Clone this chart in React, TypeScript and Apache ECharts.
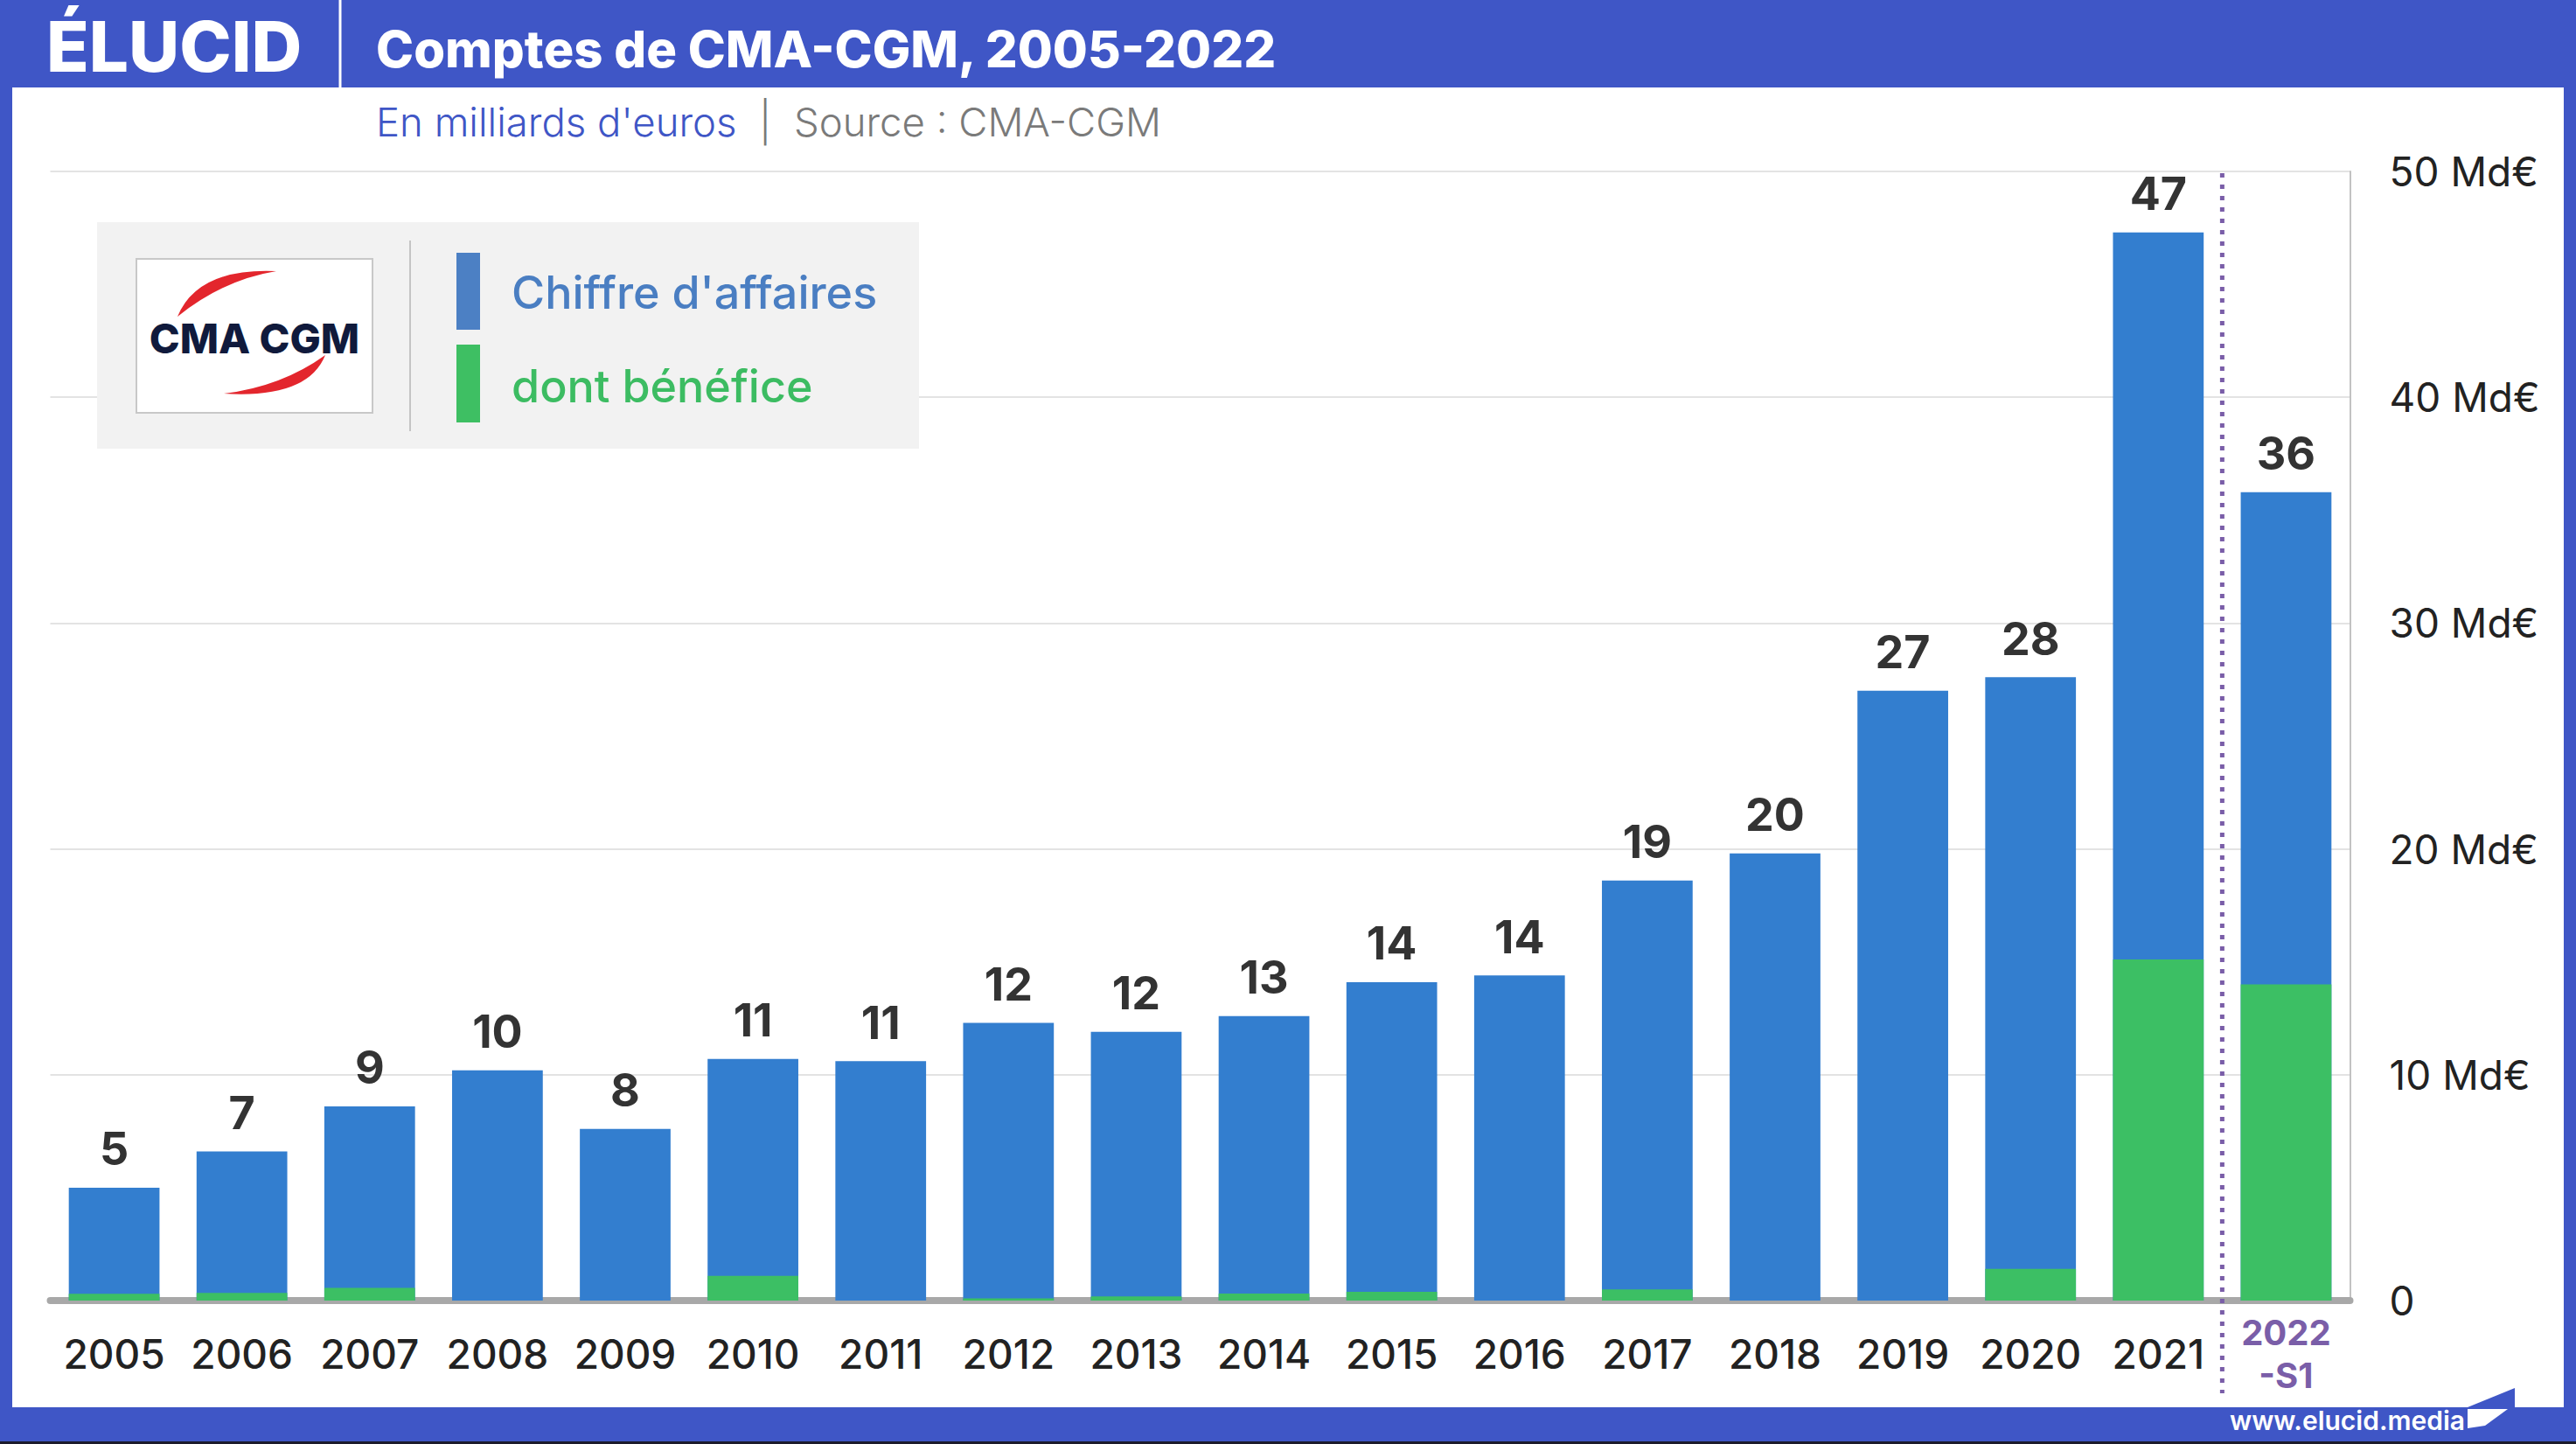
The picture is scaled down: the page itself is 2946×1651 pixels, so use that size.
import React, { useEffect, useRef } from 'react';
import * as echarts from 'echarts';

const categories = ['2005', '2006', '2007', '2008', '2009', '2010', '2011', '2012', '2013', '2014', '2015', '2016', '2017', '2018', '2019', '2020', '2021', '2022-S1'];
const revenue = [5.0, 6.6, 8.6, 10.2, 7.6, 10.7, 10.6, 12.3, 11.9, 12.6, 14.1, 14.4, 18.6, 19.8, 27.0, 27.6, 47.3, 35.8];
const profit = [0.3, 0.34, 0.56, 0, 0, 1.09, 0, 0.1, 0.18, 0.31, 0.39, 0, 0.49, 0, 0, 1.4, 15.1, 14.0];
const yMin = 0;
const yMax = 50;
const yStep = 10;

const FONT = 'Inter, "Noto Sans", sans-serif';
const FRAME = '#3f56c6';
const BAR_BLUE = '#337ecf';
const BAR_GREEN = '#3cbf64';
const PURPLE = '#7a5ea8';

echarts.graphic.registerShape(
  'cmaArcTop',
  echarts.graphic.extendPath('M203,362 Q226,306 316,310 Q255,320 203,362 Z', {})
);
echarts.graphic.registerShape(
  'cmaArcBottom',
  echarts.graphic.extendPath('M372,406 Q352,456 256,450 Q322,442 372,406 Z', {})
);

export default function App() {
  const ref = useRef<HTMLDivElement>(null);

  useEffect(() => {
    document.body.style.margin = '0';
    if (!ref.current) return;
    const chart = echarts.init(ref.current, null, { renderer: 'svg' });
    const last = categories.length - 1;

    const option: any = {
      animation: false,
      backgroundColor: '#ffffff',
      grid: {
        left: 57.5,
        right: 258.5,
        top: 196,
        bottom: 164,
        containLabel: false,
        outerBoundsMode: 'none',
      },
      xAxis: {
        type: 'category',
        data: categories,
        offset: 4,
        axisLine: { show: true, lineStyle: { color: '#a8a8a8', width: 8 } },
        axisTick: { show: false },
        axisLabel: {
          interval: 0,
          margin: 57,
          verticalAlign: 'middle',
          fontFamily: FONT,
          fontSize: 46,
          fontWeight: 500,
          color: '#222222',
          formatter: (v: string, i: number) => (i === last ? '{p|2022}\n{p|-S1}' : v),
          rich: {
            p: {
              fontFamily: FONT,
              fontSize: 40,
              fontWeight: 'bold',
              color: PURPLE,
              lineHeight: 49,
            },
          },
        },
        splitLine: { show: false },
      },
      yAxis: {
        type: 'value',
        position: 'right',
        min: yMin,
        max: yMax,
        interval: yStep,
        axisLine: { show: true, lineStyle: { color: '#c2c2c2', width: 2 } },
        axisTick: { show: false },
        axisLabel: {
          margin: 45,
          fontFamily: FONT,
          fontSize: 46,
          color: '#222222',
          formatter: (v: number) => (v === 0 ? '0' : v + ' Md€'),
        },
        splitLine: { show: true, lineStyle: { color: '#e3e3e3', width: 2 } },
      },
      series: [
        {
          type: 'bar',
          name: "Chiffre d'affaires",
          data: revenue,
          barCategoryGap: '29%',
          barGap: '-100%',
          itemStyle: { color: BAR_BLUE },
          label: {
            show: true,
            position: 'top',
            distance: 18,
            fontFamily: FONT,
            fontSize: 52,
            fontWeight: 'bold',
            color: '#333333',
            formatter: (p: any) => String(Math.round(p.value)),
          },
          z: 2,
        },
        {
          type: 'bar',
          name: 'dont bénéfice',
          data: profit,
          barCategoryGap: '29%',
          barGap: '-100%',
          itemStyle: { color: BAR_GREEN },
          z: 3,
        },
      ],
      graphic: [
        // frame
        { id: 'top', type: 'rect', shape: { x: 0, y: 0, width: 2946, height: 100 }, style: { fill: FRAME }, z: 10 },
        { id: 'left', type: 'rect', shape: { x: 0, y: 0, width: 14, height: 1651 }, style: { fill: FRAME }, z: 10 },
        { id: 'right', type: 'rect', shape: { x: 2932, y: 0, width: 14, height: 1651 }, style: { fill: FRAME }, z: 10 },
        { id: 'bottom', type: 'rect', shape: { x: 0, y: 1609, width: 2946, height: 42 }, style: { fill: FRAME }, z: 10 },
        { id: 'bottomEdge', type: 'rect', shape: { x: 0, y: 1648, width: 2946, height: 3 }, style: { fill: '#1c1c2c' }, z: 11 },
        { id: 'hsep', type: 'line', shape: { x1: 389, y1: 0, x2: 389, y2: 100 }, style: { stroke: '#ffffff', lineWidth: 3 }, z: 11 },
        {
          id: 'brand', type: 'text', x: 53, y: 52, z: 11,
          style: { text: 'ÉLUCID', fontFamily: FONT, fontSize: 80, fontWeight: 800, fill: '#ffffff', verticalAlign: 'middle' },
        },
        {
          id: 'title', type: 'text', x: 430, y: 56, z: 11,
          style: { text: 'Comptes de CMA-CGM, 2005-2022', fontFamily: FONT, fontSize: 58, fontWeight: 800, fill: '#ffffff', verticalAlign: 'middle' },
        },
        {
          id: 'subtitle', type: 'text', x: 430, y: 139, z: 11,
          style: {
            text: "{a|En milliards d'euros}{b|  |  Source : CMA-CGM}",
            verticalAlign: 'middle',
            rich: {
              a: { fontFamily: FONT, fontSize: 45.5, fill: FRAME, fontWeight: 300 },
              b: { fontFamily: FONT, fontSize: 45.5, fill: '#7a7a7a', fontWeight: 300 },
            },
          },
        },
        {
          id: 'site', type: 'text', x: 2550, y: 1624, z: 11,
          style: { text: 'www.elucid.media', fontFamily: FONT, fontSize: 30, fontWeight: 600, fill: '#ffffff', verticalAlign: 'middle' },
        },
        {
          id: 'flagBlue', type: 'polygon', z: 11,
          shape: { points: [[2876, 1587], [2876, 1609], [2822, 1609]] },
          style: { fill: FRAME },
        },
        {
          id: 'flagWhite', type: 'polygon', z: 12,
          shape: { points: [[2822, 1611], [2868, 1611], [2842, 1630], [2822, 1633]] },
          style: { fill: '#ffffff' },
        },
        // legend box
        { id: 'lgBg', type: 'rect', shape: { x: 111, y: 254, width: 940, height: 259 }, style: { fill: '#f2f2f2' }, z: 10 },
        { id: 'logoBox', type: 'rect', shape: { x: 156, y: 296, width: 270, height: 176 }, style: { fill: '#ffffff', stroke: '#c8c8c8', lineWidth: 2 }, z: 11 },
        { id: 'arcTop', type: 'cmaArcTop', x: 0, y: 0, style: { fill: '#e3262d' }, z: 12 },
        { id: 'arcBottom', type: 'cmaArcBottom', x: 0, y: 0, style: { fill: '#e3262d' }, z: 12 },
        {
          id: 'logoText', type: 'text', x: 291, y: 386, z: 12,
          style: { text: 'CMA CGM', fontFamily: FONT, fontSize: 47, fontWeight: 800, fill: '#101a3c', align: 'center', verticalAlign: 'middle' },
        },
        { id: 'lgSep', type: 'line', shape: { x1: 469, y1: 275, x2: 469, y2: 493 }, style: { stroke: '#c4c4c4', lineWidth: 2 }, z: 11 },
        { id: 'swBlue', type: 'rect', shape: { x: 522, y: 289, width: 27, height: 88 }, style: { fill: '#4c80c4' }, z: 11 },
        { id: 'swGreen', type: 'rect', shape: { x: 522, y: 394, width: 27, height: 89 }, style: { fill: '#3ebf63' }, z: 11 },
        {
          id: 'lgT1', type: 'text', x: 585, y: 334, z: 11,
          style: { text: "Chiffre d'affaires", fontFamily: FONT, fontSize: 52, fontWeight: 500, fill: '#4a7ec2', verticalAlign: 'middle' },
        },
        {
          id: 'lgT2', type: 'text', x: 585, y: 441, z: 11,
          style: { text: 'dont bénéfice', fontFamily: FONT, fontSize: 52, fontWeight: 500, fill: '#3cbc62', verticalAlign: 'middle' },
        },
      ],
    };

    chart.setOption(option);

    const xa = chart.convertToPixel({ xAxisIndex: 0 }, categories[last - 1]) as number;
    const xb = chart.convertToPixel({ xAxisIndex: 0 }, categories[last]) as number;
    const yTop = chart.convertToPixel({ yAxisIndex: 0 }, yMax) as number;
    const yZero = chart.convertToPixel({ yAxisIndex: 0 }, yMin) as number;
    const xd = (xa + xb) / 2;
    chart.setOption({
      graphic: [
        {
          id: 'divider', type: 'line', z: 20,
          shape: { x1: xd, y1: yTop + 2, x2: xd, y2: yZero + 106 },
          style: { stroke: PURPLE, lineWidth: 5, lineDash: [5, 8] },
        },
      ],
    });

    return () => chart.dispose();
  }, []);

  return <div ref={ref} style={{ position: 'absolute', left: 0, top: 0, width: 2946, height: 1651 }} />;
}
